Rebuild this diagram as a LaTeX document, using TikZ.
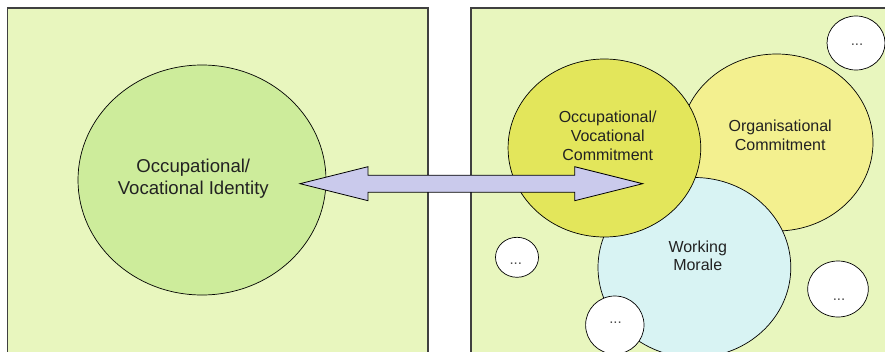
\documentclass[tikz,border=0pt]{standalone}
\usepackage{fontspec}
\setmainfont{Liberation Sans}
\usetikzlibrary{shapes.geometric,calc}

\definecolor{panelbg}{RGB}{232,246,190}
\definecolor{identityfill}{RGB}{205,236,155}
\definecolor{occfill}{RGB}{227,230,91}
\definecolor{orgfill}{RGB}{243,240,143}
\definecolor{moralefill}{RGB}{216,243,243}
\definecolor{arrowfill}{RGB}{202,202,236}
\definecolor{textgray}{RGB}{34,34,34}

\begin{document}
\begin{tikzpicture}[x=1pt,y=-1pt,
  panel/.style={draw=black!75,line width=1.3pt,fill=panelbg},
  bubble/.style={ellipse,draw=black,line width=0.7pt,inner sep=0pt},
  smallbubble/.style={bubble,fill=white},
  bigtext/.style={align=center,inner sep=0pt,text=textgray,
    font=\fontsize{18.6}{22}\selectfont},
  midtext/.style={align=center,inner sep=0pt,text=textgray,
    font=\fontsize{16}{18.7}\selectfont},
  dots/.style={inner sep=0pt,text=black!70,font=\fontsize{15}{15}\selectfont},
  bigarrow/.style={draw=black,line width=0.8pt,fill=arrowfill,line join=miter}]

\useasboundingbox (0,0) rectangle (885,351);
\clip (0,0) rectangle (885,351);

% the two panels
\draw[panel] (7.5,8) rectangle (428,370);
\draw[panel] (471,8) rectangle (900,370);

% left panel: identity
\node[bubble,fill=identityfill,minimum width=248pt,minimum height=230pt] (identity) at (202,180) {};
\node[bigtext] (identitytext) at (193.3,178.8) {Occupational/\\Vocational Identity};

% right panel: overlapping constructs
\node[bubble,fill=orgfill,minimum width=192.8pt,minimum height=177pt] (org) at (776.6,142.5) {};
\node[bubble,fill=moralefill,minimum width=192.8pt,minimum height=180pt] (morale) at (694.4,267.5) {};
\node[bubble,fill=occfill,minimum width=192.7pt,minimum height=178pt] (occ) at (604.4,148) {};

\node[midtext] (orgtext) at (780.2,135.3) {Organisational\\Commitment};
\node[midtext] (moraletext) at (697.7,255.8) {Working\\Morale};
\node[midtext] (occtext) at (607.7,135.6) {Occupational/\\Vocational\\Commitment};

% further, unnamed constructs
\node[smallbubble,minimum width=58pt,minimum height=54pt] (more1) at (856,43) {};
\node[smallbubble,minimum width=43pt,minimum height=40pt] (more2) at (517,257.3) {};
\node[smallbubble,minimum width=58.4pt,minimum height=58pt] (more3) at (614.8,325) {};
\node[smallbubble,minimum width=60.6pt,minimum height=56pt] (more4) at (838,289) {};
\node[dots] (dots1) at (857,44.5) {...};
\node[dots] (dots2) at (515.8,264) {...};
\node[dots] (dots3) at (615.5,322.5) {...};
\node[dots] (dots4) at (839,299.2) {...};

% double-headed block arrow between identity and commitment
\coordinate (tipL) at (300,183.7);
\coordinate (tipR) at (642.7,183.7);
\draw[bigarrow] (tipL) -- ++(68,-17) -- ++(0,8.5)
  -- ($(tipR)+(-68,-8.5)$) -- ++(0,-8.5) -- (tipR)
  -- ($(tipR)+(-68,17)$) -- ++(0,-8.5)
  -- ($(tipL)+(68,8.5)$) -- ++(0,8.5) -- cycle;
\end{tikzpicture}
\end{document}
